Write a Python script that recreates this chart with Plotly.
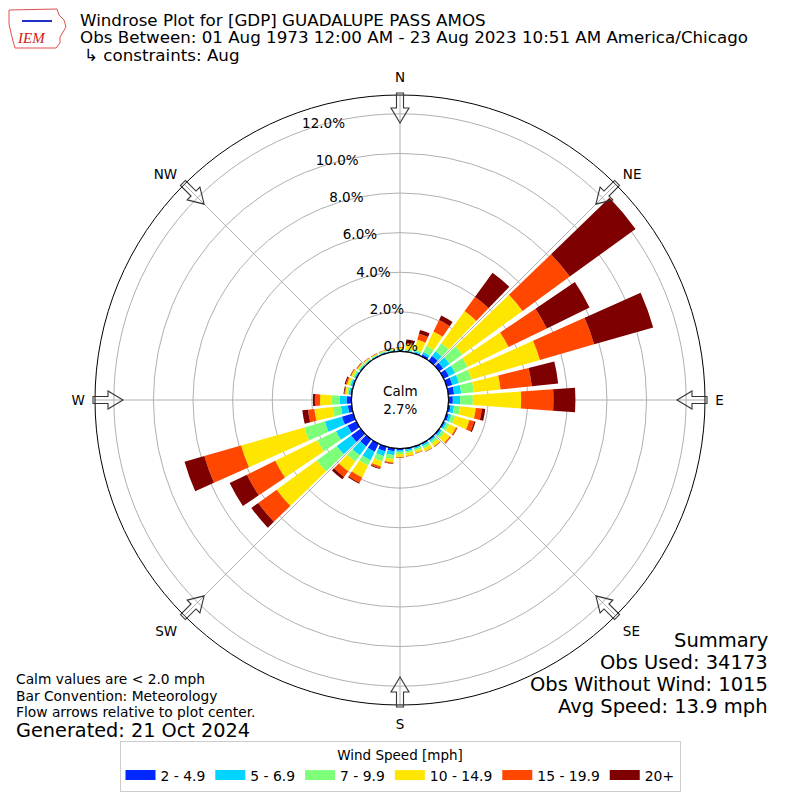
import math

import plotly.graph_objects as go

# wind direction bins (deg, meteorological) and frequency (%) per speed bin
directions = list(range(0, 360, 10))

speed_bins = ["2 - 4.9", "5 - 6.9", "7 - 9.9", "10 - 14.9", "15 - 19.9", "20+"]
bin_colors = ["#0028ff", "#00d4ff", "#7dff7a", "#ffe600", "#ff4700", "#7f0000"]

freq_2_5 = [0.04, 0.04, 0.06, 0.12, 0.30, 0.25, 0.30, 0.30, 0.30, 0.22, 0.12, 0.12,
            0.08, 0.08, 0.07, 0.07, 0.06, 0.07, 0.08, 0.15, 0.24, 0.46, 0.45, 0.60,
            0.50, 0.60, 0.20, 0.25, 0.08, 0.07, 0.06, 0.05, 0.04, 0.04, 0.04, 0.04]
freq_5_7 = [0.04, 0.04, 0.06, 0.13, 0.30, 0.40, 0.35, 0.35, 0.36, 0.37, 0.18, 0.13,
            0.10, 0.10, 0.08, 0.08, 0.07, 0.08, 0.09, 0.20, 0.26, 0.47, 0.55, 0.90,
            0.65, 0.90, 0.35, 0.35, 0.08, 0.08, 0.06, 0.05, 0.04, 0.04, 0.04, 0.04]
freq_7_10 = [0.05, 0.06, 0.10, 0.35, 0.50, 0.80, 0.70, 0.65, 0.64, 0.64, 0.30, 0.20,
             0.15, 0.15, 0.13, 0.13, 0.09, 0.10, 0.11, 0.20, 0.27, 0.30, 0.40, 1.25,
             1.05, 1.08, 0.42, 0.40, 0.08, 0.08, 0.08, 0.06, 0.05, 0.04, 0.04, 0.04]
freq_10_15 = [0.07, 0.26, 0.50, 0.80, 2.00, 3.75, 2.30, 3.60, 1.36, 2.44, 0.80, 0.75,
              0.37, 0.33, 0.18, 0.16, 0.12, 0.15, 0.15, 0.17, 0.27, 0.67, 0.60, 2.50,
              2.36, 3.32, 0.93, 0.59, 0.10, 0.11, 0.10, 0.06, 0.05, 0.04, 0.04, 0.04]
freq_15_20 = [0.02, 0.06, 0.31, 0.65, 0.90, 2.95, 2.15, 2.85, 1.58, 1.63, 0.31, 0.25,
              0.06, 0.06, 0.03, 0.02, 0.02, 0.02, 0.03, 0.06, 0.11, 0.30, 0.35, 1.15,
              1.59, 1.93, 0.32, 0.26, 0.04, 0.06, 0.04, 0.03, 0.02, 0.02, 0.02, 0.02]
freq_20_up = [0.01, 0.16, 0.20, 0.25, 1.50, 4.10, 2.40, 3.10, 1.34, 1.11, 0.17, 0.07,
              0.02, 0.02, 0.01, 0.01, 0.01, 0.01, 0.01, 0.02, 0.03, 0.05, 0.15, 0.43,
              0.97, 1.04, 0.29, 0.10, 0.04, 0.06, 0.02, 0.02, 0.01, 0.01, 0.01, 0.02]

series = [freq_2_5, freq_5_7, freq_7_10, freq_10_15, freq_15_20, freq_20_up]

rtick_vals = [0, 2, 4, 6, 8, 10, 12]
rtick_text = ["%.1f%%" % v for v in rtick_vals]

compass_vals = [0, 45, 90, 135, 180, 225, 270, 315]
compass_text = ["N", "NE", "E", "SE", "S", "SW", "W", "NW"]

calm_pct = 2.7
summary_lines = ["Summary", "Obs Used: 34173", "Obs Without Wind: 1015", "Avg Speed: 13.9 mph"]
notes_lines = ["Calm values are < 2.0 mph", "Bar Convention: Meteorology",
               "Flow arrows relative to plot center."]

FONT = "DejaVu Sans"
W = H = 800
CX, CY, R_OUT = 400, 400, 305


def px(x, y):
    return x / W, 1 - y / H


fig = go.Figure()

for name, vals, color in zip(speed_bins, series, bin_colors):
    fig.add_trace(go.Barpolar(
        r=vals, theta=directions, width=[8] * len(directions),
        name=name, marker=dict(color=color, line=dict(width=0)),
        showlegend=False,
    ))

# wide swatches for the legend
for name, color in zip(speed_bins, bin_colors):
    fig.add_trace(go.Scatterpolar(
        r=[None], theta=[None], mode="lines", name=name,
        line=dict(color=color, width=10), hoverinfo="skip",
    ))

# calm circle outline
fig.add_trace(go.Scatterpolar(
    r=[0] * 361, theta=list(range(361)), mode="lines",
    line=dict(color="black", width=1.3), showlegend=False, hoverinfo="skip",
))

# radial labels
fig.add_trace(go.Scatterpolar(
    r=rtick_vals, theta=[340] * len(rtick_vals), mode="text", text=rtick_text,
    textposition="top right", textfont=dict(family=FONT, size=13.5, color="black"),
    showlegend=False, hoverinfo="skip", cliponaxis=False,
))

# hollow arrows on the compass points
shapes = []
for a in compass_vals:
    ux, uy = math.sin(math.radians(a)), -math.cos(math.radians(a))
    qx, qy = -uy, ux
    pts = []
    for rr, off in [(307, 3.5), (292, 3.5), (292, 9), (277, 0), (292, -9), (292, -3.5), (307, -3.5)]:
        pts.append(px(CX + rr * ux + off * qx, CY + rr * uy + off * qy))
    path = "M " + " L ".join("%.5f,%.5f" % p for p in pts) + " Z"
    shapes.append(dict(type="path", xref="paper", yref="paper", path=path,
                       line=dict(color="#333333", width=1.1), fillcolor="rgba(255,255,255,0)"))

# IEM logo (rough)
logo = [(9, 10), (57, 9), (59, 15), (64, 20), (66, 27), (63, 32), (60, 37), (60, 43),
        (56, 48), (15, 48), (13, 41), (11, 33), (9, 24)]
shapes.append(dict(type="path", xref="paper", yref="paper",
                   path="M " + " L ".join("%.5f,%.5f" % px(*p) for p in logo) + " Z",
                   line=dict(color="#e05050", width=1)))
shapes.append(dict(type="line", xref="paper", yref="paper",
                   x0=px(22, 21)[0], y0=px(22, 21)[1], x1=px(52, 21)[0], y1=px(52, 21)[1],
                   line=dict(color="#2030c0", width=2)))

annotations = []
title_lines = [
    ("Windrose Plot for [GDP] GUADALUPE PASS AMOS", 78, 20),
    ("Obs Between: 01 Aug 1973 12:00 AM - 23 Aug 2023 10:51 AM America/Chicago", 78, 37),
    ("\u21b3 constraints: Aug", 82, 55),
]
for txt, x, y in title_lines:
    ax, ay = px(x, y)
    annotations.append(dict(text=txt, x=ax, y=ay, xref="paper", yref="paper",
                            xanchor="left", yanchor="middle", showarrow=False,
                            font=dict(family=FONT, size=16.7, color="black")))

annotations.append(dict(text="IEM", x=px(15, 38)[0], y=px(15, 38)[1], xref="paper", yref="paper",
                        xanchor="left", yanchor="middle", showarrow=False,
                        font=dict(family="Liberation Serif", size=15, color="#d02020", style="italic")))

annotations.append(dict(text="Calm<br>%.1f%%" % calm_pct, x=0.5, y=0.5, xref="paper", yref="paper",
                        showarrow=False, font=dict(family=FONT, size=13.5, color="black")))

for i, txt in enumerate(summary_lines):
    ax, ay = px(770, 640 + i * 22)
    annotations.append(dict(text=txt, x=ax, y=ay, xref="paper", yref="paper",
                            xanchor="right", yanchor="middle", showarrow=False,
                            font=dict(family=FONT, size=19.5, color="black")))

for i, txt in enumerate(notes_lines):
    ax, ay = px(14, 679 + i * 16.5)
    annotations.append(dict(text=txt, x=ax, y=ay, xref="paper", yref="paper",
                            xanchor="left", yanchor="middle", showarrow=False,
                            font=dict(family=FONT, size=13.8, color="black")))
ax, ay = px(14, 730)
annotations.append(dict(text="Generated: 21 Oct 2024", x=ax, y=ay, xref="paper", yref="paper",
                        xanchor="left", yanchor="middle", showarrow=False,
                        font=dict(family=FONT, size=19.3, color="black")))

d0 = (CX - R_OUT) / W
fig.update_layout(
    width=W, height=H,
    margin=dict(l=0, r=0, t=0, b=0),
    paper_bgcolor="white",
    font=dict(family=FONT, size=13.5, color="black"),
    polar=dict(
        domain=dict(x=[d0, 1 - d0], y=[d0, 1 - d0]),
        hole=48.5 / R_OUT,
        bgcolor="white",
        barmode="stack",
        radialaxis=dict(range=[0, 12.95], tickvals=rtick_vals, showticklabels=False,
                        ticks="", showline=False, gridcolor="#b0b0b0", gridwidth=0.8),
        angularaxis=dict(rotation=90, direction="clockwise", tickvals=compass_vals,
                         ticktext=compass_text, ticks="outside", ticklen=7,
                         tickcolor="rgba(0,0,0,0)", showline=True, linecolor="black",
                         linewidth=1, gridcolor="#b0b0b0", gridwidth=0.8,
                         tickfont=dict(family=FONT, size=13.5)),
    ),
    legend=dict(
        orientation="h", x=0.5, xanchor="center", y=1 - 741 / H, yanchor="top",
        title=dict(text="Wind Speed [mph]", side="top center", font=dict(size=13.5)),
        font=dict(family=FONT, size=13.9), bordercolor="#cccccc", borderwidth=1,
        itemclick=False, traceorder="normal", itemwidth=30,
    ),
    shapes=shapes,
    annotations=annotations,
)

fig.write_html("out.html", config={"displayModeBar": False},
               post_script="document.body.style.margin='0';")
